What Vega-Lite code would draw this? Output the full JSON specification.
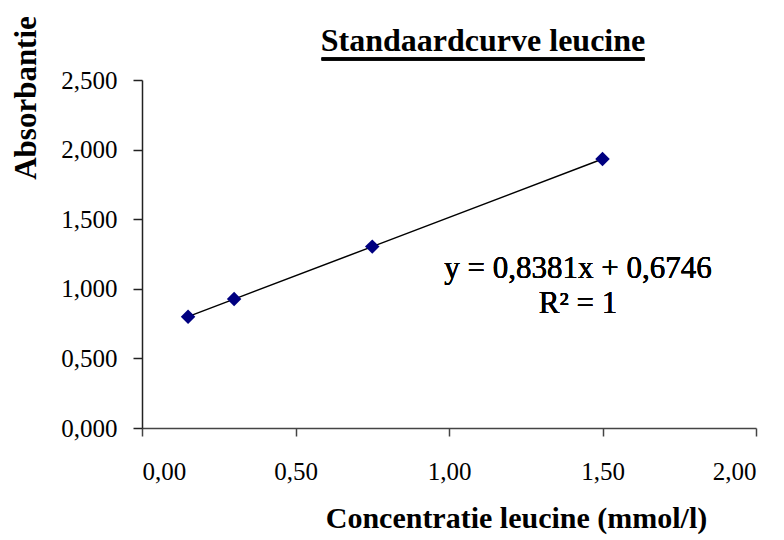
{
  "$schema": "https://vega.github.io/schema/vega-lite/v6.json",
  "autosize": "none",
  "width": 614,
  "height": 348,
  "padding": {"left": 142, "top": 80, "right": 28, "bottom": 112},
  "background": "white",
  "config": {
    "view": {"stroke": null},
    "font": "Liberation Serif"
  },
  "title": {
    "text": "Standaardcurve leucine",
    "font": "Liberation Serif",
    "fontSize": 32,
    "fontWeight": "bold",
    "color": "#000",
    "anchor": "middle",
    "frame": "group",
    "dx": 34,
    "baseline": "alphabetic",
    "offset": -67
  },
  "data": {
    "values": [
      {"conc": 0.15, "abs": 0.800},
      {"conc": 0.30, "abs": 0.926},
      {"conc": 0.75, "abs": 1.303},
      {"conc": 1.50, "abs": 1.932}
    ]
  },
  "layer": [
    {
      "mark": {"type": "line", "color": "#000", "strokeWidth": 1.5},
      "encoding": {
        "x": {
          "field": "conc", "type": "quantitative",
          "scale": {"domain": [0, 2], "nice": false, "zero": true},
          "axis": {
            "values": [0, 0.5, 1, 1.5, 2],
            "labelExpr": "replace(format(datum.value, '.2f'), '.', ',')",
            "grid": false,
            "domainColor": "#444", "tickColor": "#444",
            "tickSize": 8, "tickWidth": 1.5, "domainWidth": 1.5,
            "labelFont": "Liberation Serif", "labelFontSize": 25, "labelColor": "#000",
            "labelPadding": 23, "labelBaseline": "top",
            "title": "Concentratie leucine (mmol/l)",
            "titleFont": "Liberation Serif", "titleFontSize": 30, "titleFontWeight": "bold",
            "titleColor": "#000",
            "titleX": 374, "titleY": 99, "titleAlign": "center", "titleBaseline": "alphabetic",
            "titleAnchor": null
          }
        },
        "y": {
          "field": "abs", "type": "quantitative",
          "scale": {"domain": [0, 2.5], "nice": false},
          "axis": {
            "values": [0, 0.5, 1, 1.5, 2, 2.5],
            "labelExpr": "replace(format(datum.value, '.3f'), '.', ',')",
            "grid": false,
            "domainColor": "#222", "tickColor": "#222",
            "tickSize": 9, "tickWidth": 1.5, "domainWidth": 1.5,
            "labelFont": "Liberation Serif", "labelFontSize": 25, "labelColor": "#000",
            "labelPadding": 16,
            "title": "Absorbantie",
            "titleFont": "Liberation Serif", "titleFontSize": 31, "titleFontWeight": "bold",
            "titleColor": "#000",
            "titleAngle": -90,
            "titleX": -107, "titleY": 17.5, "titleAlign": "center", "titleBaseline": "alphabetic",
            "titleAnchor": null
          }
        }
      }
    },
    {
      "mark": {"type": "point", "shape": "diamond", "filled": true, "size": 210, "color": "#000080", "opacity": 1},
      "encoding": {
        "x": {"field": "conc", "type": "quantitative"},
        "y": {"field": "abs", "type": "quantitative"}
      }
    },
    {
      "mark": {
        "type": "text",
        "text": ["y = 0,8381x + 0,6746", "R² = 1"],
        "font": "Liberation Serif",
        "fontSize": 31,
        "fontWeight": "normal",
        "lineHeight": 35,
        "align": "center",
        "baseline": "alphabetic",
        "color": "#000"
      },
      "encoding": {
        "x": {"datum": 1.42},
        "y": {"datum": 1.076}
      }
    },
    {
      "mark": {"type": "rule", "color": "#000", "strokeWidth": 3, "clip": false},
      "encoding": {
        "x": {"datum": 0.585},
        "x2": {"datum": 1.637},
        "y": {"datum": 2.651}
      }
    }
  ]
}
